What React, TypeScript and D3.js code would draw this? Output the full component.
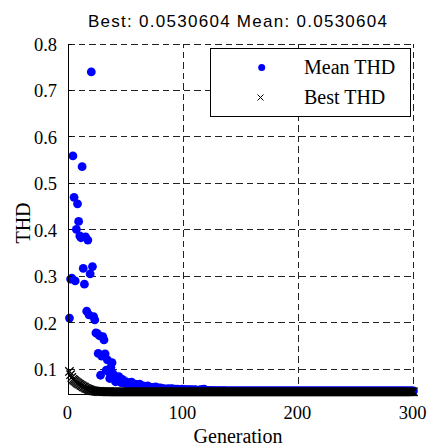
import React from "react";
import * as d3 from "d3";

// GA convergence: mean and best THD per generation (1..300)
const meanTHD = [
  0.210, 0.294, 0.296, 0.559, 0.470, 0.290, 0.401, 0.456, 0.418, 0.387,
  0.383, 0.536, 0.317, 0.283, 0.385, 0.225, 0.378, 0.217, 0.305, 0.740,
  0.321, 0.213, 0.206, 0.178, 0.177, 0.134, 0.172, 0.087, 0.128, 0.170,
  0.163, 0.133, 0.098, 0.120, 0.094, 0.080, 0.104, 0.114, 0.090, 0.085,
  0.073, 0.079, 0.076, 0.084, 0.074, 0.071, 0.078, 0.072, 0.070, 0.073,
  0.069, 0.071, 0.068, 0.070, 0.072, 0.067, 0.066, 0.068, 0.065, 0.066,
  0.064, 0.068, 0.065, 0.063, 0.064, 0.062, 0.063, 0.061, 0.064, 0.062,
  0.060, 0.061, 0.060, 0.059, 0.061, 0.062, 0.059, 0.058, 0.059, 0.060,
  0.058, 0.057, 0.058, 0.057, 0.056, 0.057, 0.058, 0.056, 0.057, 0.058,
  0.057, 0.056, 0.057, 0.056, 0.057, 0.056, 0.055, 0.056, 0.057, 0.056,
  0.056, 0.055, 0.056, 0.055, 0.056, 0.055, 0.056, 0.055, 0.055, 0.056,
  0.055, 0.055, 0.054, 0.055, 0.056, 0.055, 0.056, 0.057, 0.055, 0.054,
  0.0540, 0.0538, 0.0541, 0.0536, 0.0535, 0.0539, 0.0534, 0.0537, 0.0535, 0.0533,
  0.0536, 0.0534, 0.0535, 0.0533, 0.0537, 0.0534, 0.0532, 0.0535, 0.0533, 0.0534,
  0.0533, 0.0532, 0.0534, 0.0532, 0.0533, 0.0532, 0.0531, 0.0533, 0.0532, 0.0532,
  0.0532, 0.0531, 0.0532, 0.0533, 0.0531, 0.0532, 0.0531, 0.0532, 0.0531, 0.0531,
  0.0531, 0.0532, 0.0531, 0.0531, 0.0531, 0.0532, 0.0531, 0.0531, 0.0531, 0.0531,
  0.0531, 0.0531, 0.0531, 0.0532, 0.0531, 0.0531, 0.0531, 0.0531, 0.0531, 0.0531,
  0.0531, 0.0531, 0.0531, 0.0531, 0.0531, 0.0531, 0.0531, 0.0531, 0.0531, 0.0531,
  0.0531, 0.0531, 0.0531, 0.0531, 0.0531, 0.0531, 0.0531, 0.0531, 0.0531, 0.0531,
  0.0531, 0.0531, 0.0531, 0.0531, 0.0531, 0.0531, 0.0531, 0.0531, 0.0531, 0.0531,
  0.0531, 0.0531, 0.0531, 0.0531, 0.0531, 0.0531, 0.0531, 0.0531, 0.0531, 0.0531,
  0.0531, 0.0531, 0.0531, 0.0531, 0.0531, 0.0531, 0.0531, 0.0531, 0.0531, 0.0531,
  0.0531, 0.0531, 0.0531, 0.0531, 0.0531, 0.0531, 0.0531, 0.0531, 0.0531, 0.0531,
  0.0531, 0.0531, 0.0531, 0.0531, 0.0531, 0.0531, 0.0531, 0.0531, 0.0531, 0.0531,
  0.0531, 0.0531, 0.0531, 0.0531, 0.0531, 0.0531, 0.0531, 0.0531, 0.0531, 0.0531,
  0.0531, 0.0531, 0.0531, 0.0531, 0.0531, 0.0531, 0.0531, 0.0531, 0.0531, 0.0531,
  0.0531, 0.0531, 0.0531, 0.0531, 0.0531, 0.0531, 0.0531, 0.0531, 0.0531, 0.0531,
  0.0531, 0.0531, 0.0531, 0.0531, 0.0531, 0.0531, 0.0531, 0.0531, 0.0531, 0.0531,
  0.0531, 0.0531, 0.0531, 0.0531, 0.0531, 0.0531, 0.0531, 0.0531, 0.0531, 0.0531,
];

const bestTHD = [
  0.097, 0.090, 0.084, 0.080, 0.078, 0.076, 0.074, 0.072, 0.070, 0.069,
  0.067, 0.066, 0.064, 0.063, 0.061, 0.060, 0.059, 0.058, 0.057, 0.056,
  0.0555, 0.0550, 0.0547, 0.0543, 0.0540, 0.0538, 0.0537, 0.0536, 0.0535, 0.0534,
  0.0534, 0.0533, 0.0533, 0.0532, 0.0532, 0.0532, 0.0531, 0.0531, 0.0531, 0.0531,
  0.0531, 0.0531, 0.0531, 0.0531, 0.0531, 0.0531, 0.0531, 0.0531, 0.0531, 0.0531,
  0.0531, 0.0531, 0.0531, 0.0531, 0.0531, 0.0531, 0.0531, 0.0531, 0.0531, 0.0531,
  0.0531, 0.0531, 0.0531, 0.0531, 0.0531, 0.0531, 0.0531, 0.0531, 0.0531, 0.0531,
  0.0531, 0.0531, 0.0531, 0.0531, 0.0531, 0.0531, 0.0531, 0.0531, 0.0531, 0.0531,
  0.0531, 0.0531, 0.0531, 0.0531, 0.0531, 0.0531, 0.0531, 0.0531, 0.0531, 0.0531,
  0.0531, 0.0531, 0.0531, 0.0531, 0.0531, 0.0531, 0.0531, 0.0531, 0.0531, 0.0531,
  0.0531, 0.0531, 0.0531, 0.0531, 0.0531, 0.0531, 0.0531, 0.0531, 0.0531, 0.0531,
  0.0531, 0.0531, 0.0531, 0.0531, 0.0531, 0.0531, 0.0531, 0.0531, 0.0531, 0.0531,
  0.0531, 0.0531, 0.0531, 0.0531, 0.0531, 0.0531, 0.0531, 0.0531, 0.0531, 0.0531,
  0.0531, 0.0531, 0.0531, 0.0531, 0.0531, 0.0531, 0.0531, 0.0531, 0.0531, 0.0531,
  0.0531, 0.0531, 0.0531, 0.0531, 0.0531, 0.0531, 0.0531, 0.0531, 0.0531, 0.0531,
  0.0531, 0.0531, 0.0531, 0.0531, 0.0531, 0.0531, 0.0531, 0.0531, 0.0531, 0.0531,
  0.0531, 0.0531, 0.0531, 0.0531, 0.0531, 0.0531, 0.0531, 0.0531, 0.0531, 0.0531,
  0.0531, 0.0531, 0.0531, 0.0531, 0.0531, 0.0531, 0.0531, 0.0531, 0.0531, 0.0531,
  0.0531, 0.0531, 0.0531, 0.0531, 0.0531, 0.0531, 0.0531, 0.0531, 0.0531, 0.0531,
  0.0531, 0.0531, 0.0531, 0.0531, 0.0531, 0.0531, 0.0531, 0.0531, 0.0531, 0.0531,
  0.0531, 0.0531, 0.0531, 0.0531, 0.0531, 0.0531, 0.0531, 0.0531, 0.0531, 0.0531,
  0.0531, 0.0531, 0.0531, 0.0531, 0.0531, 0.0531, 0.0531, 0.0531, 0.0531, 0.0531,
  0.0531, 0.0531, 0.0531, 0.0531, 0.0531, 0.0531, 0.0531, 0.0531, 0.0531, 0.0531,
  0.0531, 0.0531, 0.0531, 0.0531, 0.0531, 0.0531, 0.0531, 0.0531, 0.0531, 0.0531,
  0.0531, 0.0531, 0.0531, 0.0531, 0.0531, 0.0531, 0.0531, 0.0531, 0.0531, 0.0531,
  0.0531, 0.0531, 0.0531, 0.0531, 0.0531, 0.0531, 0.0531, 0.0531, 0.0531, 0.0531,
  0.0531, 0.0531, 0.0531, 0.0531, 0.0531, 0.0531, 0.0531, 0.0531, 0.0531, 0.0531,
  0.0531, 0.0531, 0.0531, 0.0531, 0.0531, 0.0531, 0.0531, 0.0531, 0.0531, 0.0531,
  0.0531, 0.0531, 0.0531, 0.0531, 0.0531, 0.0531, 0.0531, 0.0531, 0.0531, 0.0531,
  0.0531, 0.0531, 0.0531, 0.0531, 0.0531, 0.0531, 0.0531, 0.0531, 0.0531, 0.0531,
];

const xTicks = [0, 100, 200, 300];
const yTicks = [0.1, 0.2, 0.3, 0.4, 0.5, 0.6, 0.7, 0.8];
const titleText = "Best: 0.0530604 Mean: 0.0530604";
const legendLabels = ["Mean THD", "Best THD"];

const serif = "'Liberation Serif', 'Times New Roman', serif";
const sans = "'Liberation Sans', Arial, sans-serif";

export default function App() {
  const x = d3.scaleLinear().domain([0, 300]).range([68.3, 413.5]);
  const y = d3.scaleLinear().domain([0.046, 0.8]).range([394.3, 44]);
  const [x0, x1] = x.range();
  const [y0, y1] = y.range();

  const mean = meanTHD.map((v, i) => ({ g: i + 1, v }));
  const best = bestTHD.map((v, i) => ({ g: i + 1, v }));

  const cross = (cx: number, cy: number, s: number) =>
    `M${cx - s},${cy - s}L${cx + s},${cy + s}M${cx - s},${cy + s}L${cx + s},${cy - s}`;

  const dash = "6.5,4";

  return (
    <svg
      width={430}
      height={448}
      style={{ position: "absolute", left: 0, top: 0, background: "#fff" }}
    >
      <rect x={0} y={0} width={430} height={448} fill="#fff" />
      <text
        x={88}
        y={27}
        fontFamily={sans}
        fontSize={17}
        textLength={299}
        lengthAdjust="spacing"
      >
        {titleText}
      </text>

      {/* grid */}
      <g stroke="#222" strokeWidth={1} strokeDasharray={dash} shapeRendering="crispEdges">
        {xTicks.filter(t => t > 0).map(t => (
          <line key={"gx" + t} x1={x(t)} x2={x(t)} y1={y0} y2={y1} />
        ))}
        {yTicks.map(t => (
          <line key={"gy" + t} x1={x0} x2={x1} y1={y(t)} y2={y(t)} />
        ))}
      </g>

      {/* mean points */}
      <g fill="#0000ff">
        {mean.map(d => (
          <circle key={"m" + d.g} cx={x(d.g)} cy={y(d.v)} r={4.4} />
        ))}
      </g>

      {/* best points */}
      <g stroke="#000" strokeWidth={1.3} fill="none">
        {best.map(d => (
          <path key={"b" + d.g} d={cross(x(d.g), y(d.v) + 0.8, 4.2)} />
        ))}
      </g>

      {/* axes */}
      <g stroke="#000" strokeWidth={1} shapeRendering="crispEdges">
        <line x1={x0} x2={x0} y1={y0} y2={y1} />
        <line x1={x0} x2={x1} y1={y0} y2={y0} />
        {yTicks.map(t => (
          <line key={"ty" + t} x1={x0} x2={x0 + 4} y1={y(t)} y2={y(t)} />
        ))}
        {xTicks.map(t => (
          <line key={"tx" + t} x1={x(t)} x2={x(t)} y1={y0} y2={y0 - 4} />
        ))}
      </g>

      {/* tick labels */}
      <g fontFamily={serif} fontSize={18.5} fill="#000">
        {yTicks.map(t => (
          <text key={"ly" + t} x={57} y={y(t) + 1} textAnchor="end" dominantBaseline="central">
            {d3.format(".1f")(t)}
          </text>
        ))}
        {xTicks.map(t => (
          <text key={"lx" + t} x={x(t) - 1} y={419} textAnchor="middle">
            {t}
          </text>
        ))}
      </g>

      <text x={238} y={443} textAnchor="middle" fontFamily={serif} fontSize={20}>
        Generation
      </text>
      <text
        transform="translate(30,223) rotate(-90)"
        textAnchor="middle"
        fontFamily={serif}
        fontSize={20}
      >
        THD
      </text>

      {/* legend */}
      <g>
        <rect
          x={210.7}
          y={48.3}
          width={199.3}
          height={67.7}
          fill="#fff"
          stroke="#000"
          strokeWidth={1}
          shapeRendering="crispEdges"
        />
        <circle cx={261.7} cy={67.5} r={3.5} fill="#0000ff" />
        <path d={cross(260.5, 97.5, 3)} stroke="#000" strokeWidth={1} />
        <text x={304} y={73.5} fontFamily={serif} fontSize={20}>
          {legendLabels[0]}
        </text>
        <text x={304} y={104} fontFamily={serif} fontSize={20}>
          {legendLabels[1]}
        </text>
      </g>
    </svg>
  );
}
